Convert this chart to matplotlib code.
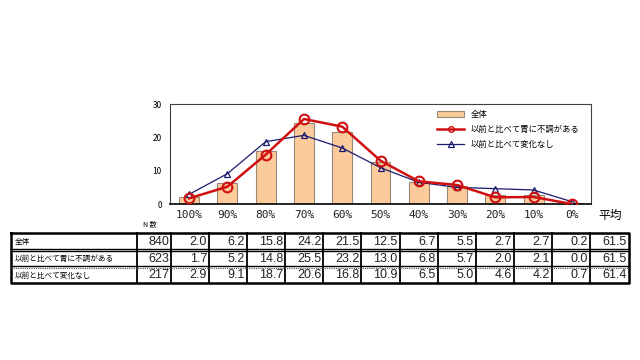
import numpy as np
import matplotlib
matplotlib.use("Agg")
from matplotlib import pyplot as plt
from matplotlib.lines import Line2D
from matplotlib.patches import Patch

plt.rcParams['font.family'] = ['Noto Sans CJK JP', 'DejaVu Sans']

# データ
categories = ['100%', '90%', '80%', '70%', '60%', '50%', '40%', '30%', '20%', '10%', '0%']
row_names = ['全体', '以前と比べて胃に不調がある', '以前と比べて変化なし']
n_counts = [840, 623, 217]
zentai = [2.0, 6.2, 15.8, 24.2, 21.5, 12.5, 6.7, 5.5, 2.7, 2.7, 0.2]
fuchou = [1.7, 5.2, 14.8, 25.5, 23.2, 13.0, 6.8, 5.7, 2.0, 2.1, 0.0]
henka = [2.9, 9.1, 18.7, 20.6, 16.8, 10.9, 6.5, 5.0, 4.6, 4.2, 0.7]
averages = [61.5, 61.5, 61.4]

W, H = 640, 360
fig = plt.figure(figsize=(6.4, 3.6), dpi=100)
fig.patch.set_facecolor('white')

# グラフ部分
L, R, T, B = 170, 591, 104, 204
ax = fig.add_axes([L / W, 1 - B / H, (R - L) / W, (B - T) / H])
x = np.arange(len(categories))
ax.bar(x, zentai, width=0.52, color='#FBCB9B', edgecolor='#9A8878', linewidth=0.8, zorder=1)
ax.plot(x, fuchou, color='#D01010', lw=1.8, marker='o', ms=7, mfc='none', mew=1.5, zorder=3)
ax.plot(x, henka, color='#1A1A70', lw=0.9, marker='^', ms=5, mfc='none', mew=0.9, zorder=2)
ax.set_xlim(-0.5, len(categories) - 0.5)
ax.set_ylim(0, 30)
ax.set_yticks([0, 10, 20, 30])
ax.tick_params(axis='y', labelsize=6, length=0, pad=6)
ax.set_xticks(x)
ax.set_xticklabels(categories, fontsize=8, color='#222222')
ax.tick_params(axis='x', length=0, pad=4)
for lbl in ax.get_xticklabels():
    lbl.set_fontfamily(['DejaVu Sans Mono', 'Noto Sans CJK JP'])
for s in ax.spines.values():
    s.set_color('#404040')
    s.set_linewidth(0.8)
ax.spines['bottom'].set_color('black')
ax.spines['bottom'].set_linewidth(1.2)

handles = [
    Patch(facecolor='#FBCB9B', edgecolor='#9A8878', linewidth=0.8),
    Line2D([], [], color='#D01010', lw=1.8, marker='o', ms=4, mfc='none', mew=1),
    Line2D([], [], color='#1A1A70', lw=0.9, marker='^', ms=4, mfc='none', mew=0.9),
]
ax.legend(handles, row_names, loc='upper right', bbox_to_anchor=(0.985, 0.99),
          frameon=False, fontsize=6, handlelength=3.2, handleheight=0.6,
          labelspacing=0.7, borderaxespad=0.2)

# 表部分（ピクセル座標）
tb = fig.add_axes([0, 0, 1, 1])
tb.set_xlim(0, W)
tb.set_ylim(H, 0)
tb.axis('off')

tb.text(610, 215, '平均', fontsize=8.5, ha='center', va='center')
tb.text(150, 225, 'N 数', fontsize=5, ha='center', va='center')

x0, x_lab, x_n, x_data0, x_avg, x1 = 11, 137, 171, 171, 590, 629
col_w = (x_avg - x_data0) / len(categories)
y_rows = [233, 250, 267, 283]

# 枠
tb.plot([x0, x1, x1, x0, x0], [y_rows[0], y_rows[0], y_rows[-1], y_rows[-1], y_rows[0]],
        color='black', lw=1.8)
vlines = [x_lab, x_n] + [x_data0 + col_w * i for i in range(1, len(categories) + 1)]
for vx in vlines:
    tb.plot([vx, vx], [y_rows[0], y_rows[-1]], color='black', lw=1.3)
tb.plot([x0, x1], [y_rows[1] - 0.8, y_rows[1] - 0.8], color='black', lw=1.0)
tb.plot([x0, x1], [y_rows[1] + 0.8, y_rows[1] + 0.8], color='black', lw=1.0)
tb.plot([x0, x1], [y_rows[2] - 0.8, y_rows[2] - 0.8], color='black', lw=1.0)
tb.plot([x0, x1], [y_rows[2] + 0.8, y_rows[2] + 0.8], color='#555555', lw=0.8, ls=(0, (1, 1)))

num_font = ['Liberation Sans', 'Noto Sans CJK JP']
for r, (name, n, vals, avg) in enumerate(zip(row_names, n_counts, [zentai, fuchou, henka], averages)):
    yc = (y_rows[r] + y_rows[r + 1]) / 2 + 0.5
    tb.text(x0 + 4, yc, name, fontsize=5.5, ha='left', va='center')
    tb.text(x_n - 2, yc, str(n), fontsize=9, ha='right', va='center', family=num_font, color='#222222')
    for i, v in enumerate(vals):
        tb.text(x_data0 + col_w * (i + 1) - 2, yc, f'{v:.1f}', fontsize=9,
                ha='right', va='center', family=num_font, color='#222222')
    tb.text(x1 - 2, yc, f'{avg:.1f}', fontsize=9, ha='right', va='center', family=num_font, color='#222222')

fig.savefig('out.png', dpi=100, facecolor='white')
